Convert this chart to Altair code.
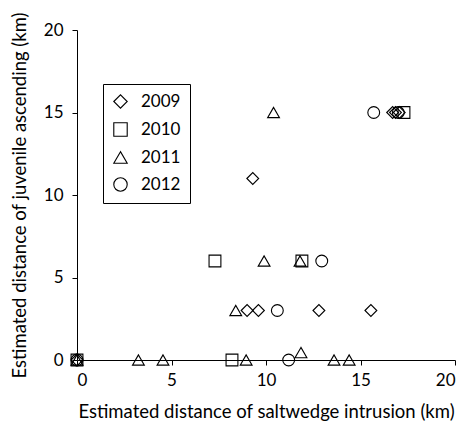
import altair as alt
import pandas as pd

years = ["2009", "2010", "2011", "2012"]

x_2009 = [0.0, 9.3, 9.0, 9.6, 12.8, 15.55, 16.7, 16.85, 17.05]
y_2009 = [0, 11, 3, 3, 3, 3, 15, 15, 15]

x_2010 = [0.0, 7.3, 8.2, 11.9, 17.3]
y_2010 = [0, 6, 0, 6, 15]

x_2011 = [0.0, 3.25, 4.55, 8.4, 8.95, 9.9, 10.4, 11.8, 11.85, 13.6, 14.4]
y_2011 = [0, 0, 0, 3, 0, 6, 15, 6, 0.45, 0, 0]

x_2012 = [0.0, 10.6, 11.2, 12.95, 15.7, 17.0]
y_2012 = [0, 3, 0, 6, 15, 15]

rows = []
for yr, xs, ys in [("2009", x_2009, y_2009), ("2010", x_2010, y_2010),
                   ("2011", x_2011, y_2011), ("2012", x_2012, y_2012)]:
    for a, b in zip(xs, ys):
        rows.append({"year": yr, "x": a, "y": b})
df = pd.DataFrame(rows)

font = "Lato"

chart = alt.Chart(df).mark_point(
    filled=False, color="black", strokeWidth=1.1, size=140, opacity=1, clip=False
).encode(
    x=alt.X("x:Q", scale=alt.Scale(domain=[0, 20], nice=False),
            axis=alt.Axis(values=[0, 5, 10, 15, 20], grid=False,
                          title="Estimated distance of saltwedge intrusion (km)",
                          labelPadding=7, titlePadding=14)),
    y=alt.Y("y:Q", scale=alt.Scale(domain=[0, 20], nice=False),
            axis=alt.Axis(values=[0, 5, 10, 15, 20], grid=False,
                          title="Estimated distance of juvenile ascending (km)",
                          labelPadding=9, titlePadding=14)),
    shape=alt.Shape("year:N", sort=years,
                    scale=alt.Scale(domain=years,
                                    range=["diamond", "square", "triangle-up", "circle"]),
                    legend=alt.Legend(title=None, orient="none", legendX=26, legendY=54,
                                      strokeColor="black", padding=9,
                                      symbolSize=180, symbolStrokeColor="black",
                                      symbolFillColor="white", symbolStrokeWidth=1.1,
                                      labelFontSize=17, labelFont=font, labelColor="black",
                                      labelExpr="datum.label + '\u00a0\u00a0\u00a0\u00a0'",
                                      rowPadding=9, labelOffset=12, fillColor="white")),
).properties(
    width=378, height=330,
    autosize=alt.AutoSizeParams(type="none"),
    padding={"left": 77, "top": 30, "right": 11, "bottom": 64}
).configure_view(
    stroke=None
).configure_axis(
    domainColor="black", tickColor="black", tickSize=5,
    labelFont=font, labelFontSize=17, labelColor="black",
    titleFont=font, titleFontSize=18.5, titleColor="black", titleFontWeight="normal"
)

chart.save("out.html", embed_options={"renderer": "svg", "actions": False})
